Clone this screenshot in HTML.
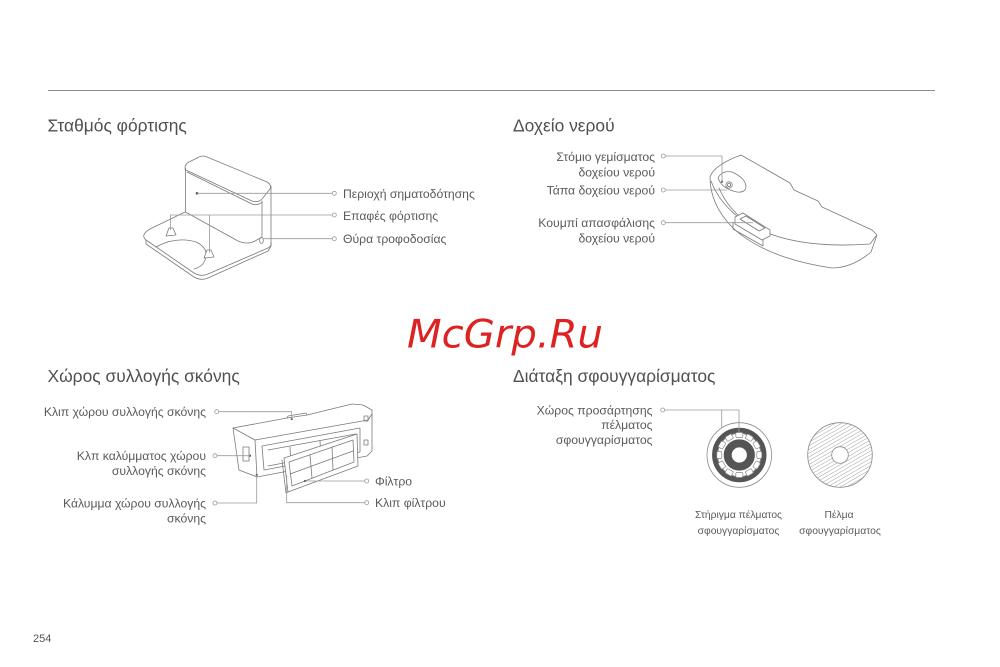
<!DOCTYPE html>
<html><head><meta charset="utf-8"><style>
html,body{margin:0;padding:0;background:#fff;}
svg{display:block;}
text{font-family:"Liberation Sans","DejaVu Sans",sans-serif;fill:#5a5a5a;}
.t{font-size:17.4px;fill:#505050;}
.l{font-size:12.2px;}
.c{font-size:10.3px;}
.ln{stroke:#9a9a9a;stroke-width:0.8;fill:none;}
.dot{fill:#fff;stroke:#9a9a9a;stroke-width:0.8;}
.d{stroke:#7a7a7a;stroke-width:0.8;fill:none;stroke-linejoin:round;stroke-linecap:round;}
.df{stroke:#7a7a7a;stroke-width:0.8;fill:#fff;stroke-linejoin:round;}
</style></head><body>
<svg width="1000" height="667" viewBox="0 0 1000 667" xmlns="http://www.w3.org/2000/svg">
<defs>
<pattern id="hatch" patternUnits="userSpaceOnUse" width="3.2" height="3.2" patternTransform="rotate(60)">
<line x1="0" y1="0" x2="0" y2="3.2" stroke="#8a8a8a" stroke-width="0.8"/>
</pattern>
</defs>

<line x1="48" y1="90.5" x2="935" y2="90.5" stroke="#8c8c8c" stroke-width="1"/>

<text class="t" x="47.5" y="131.5">Σταθμός φόρτισης</text>
<text class="t" x="513" y="131.5">Δοχείο νερού</text>
<text class="t" x="47.5" y="382">Χώρος συλλογής σκόνης</text>
<text class="t" x="513" y="382">Διάταξη σφουγγαρίσματος</text>

<!-- Charging station -->
<g>
<path class="df" d="M185,212 L150,229 Q140,235 146,240 L194,273 Q201,277 208,274 L268,248 Q272,246 271,242"/>
<path class="d" d="M146,240 L146,244 L194,277 Q201,281 208,278 L268,251 L271,246"/>
<path class="d" d="M156,247 Q176,236 196,242 Q207,247 206,256 Q205,266 194,269"/>
<path class="df" d="M185,168 Q185,164 189,162 L199,157 Q203,155 207,157 L267,182 Q272,185 270,189 L262,199 Q258,203 252,201 L188,171 Q185,170 185,168 Z"/>
<path class="d" d="M187,172 L252,204 Q258,206 262,202"/>
<line class="d" x1="185.5" y1="168" x2="185.5" y2="212"/>
<line class="d" x1="262" y1="201" x2="262" y2="237"/>
<line class="d" x1="271" y1="186" x2="271" y2="246"/>
<path class="d" d="M185.5,212 L238,241 Q247,245 255,241 L262,237"/>
<path class="df" d="M166,236 L169,228 L173,228 L176,235 Z"/>
<path class="df" d="M204,258 L207,250 L211,250 L214,257 Z"/>
<ellipse class="df" cx="261.5" cy="240.5" rx="1.8" ry="3"/>
<circle cx="197" cy="193.3" r="1.3" fill="#555"/>
</g>
<path class="ln" d="M197,193.3 H332"/>
<path class="ln" d="M170.5,230 V215 H332 M209.5,215 V253"/>
<path class="ln" d="M263,238.7 H332"/>
<circle class="dot" cx="334.3" cy="193.3" r="2"/>
<circle class="dot" cx="334.3" cy="215" r="2"/>
<circle class="dot" cx="334.3" cy="238.7" r="2"/>
<text class="l" x="343" y="197.8">Περιοχή σηματοδότησης</text>
<text class="l" x="343" y="219.8">Επαφές φόρτισης</text>
<text class="l" x="343" y="243.2">Θύρα τροφοδοσίας</text>

<!-- Water tank -->
<g>
<path class="df" d="M710,177 Q714,165 741,155 L790,183 L794,190 L818,201 L822,207 L872,230 L877,235 L871,252 Q852,268 832,268 Q765,258 733,228 Q710,205 710,177 Z"/>
<path class="d" d="M711,181 Q720,205 745,222 Q790,250 870,244 L876,236"/>
<path class="d" d="M719,188 Q728,210 752,226"/>
<path class="df" d="M718,178 Q722,170 732,172 Q745,178 746,186 Q746,193 737,192 Q722,189 718,178 Z"/>
<circle class="df" cx="729" cy="185" r="3.2"/>
<circle class="d" cx="729" cy="185" r="1.6"/>
<circle cx="722" cy="181.7" r="1.1" fill="#555"/>
<path class="df" d="M735,217 L743,213 L770,230 L770,236 L762,240 L735,224 Z"/>
<path class="d" d="M740,219 L746,216 L765,228 L759,231 Z"/>
<path class="d" d="M733,222 L733,229 L763,246 L763,240"/>
</g>
<path class="ln" d="M665.3,156 H722 V181.7"/>
<path class="ln" d="M665.3,190 H727"/>
<path class="ln" d="M665.3,222.7 H753"/>
<circle class="dot" cx="663.3" cy="156" r="2"/>
<circle class="dot" cx="663.3" cy="190" r="2"/>
<circle class="dot" cx="663.3" cy="222.7" r="2"/>
<text class="l" x="655" y="161" text-anchor="end">Στόμιο γεμίσματος</text>
<text class="l" x="655" y="176.5" text-anchor="end">δοχείου νερού</text>
<text class="l" x="655" y="194.3" text-anchor="end">Τάπα δοχείου νερού</text>
<text class="l" x="655" y="227" text-anchor="end">Κουμπί απασφάλισης</text>
<text class="l" x="655" y="242.3" text-anchor="end">δοχείου νερού</text>

<!-- Dust bin -->
<g>
<path class="df" d="M233,428 L287,418 L307,415 L352,404 L363,405 L372,410 L372,451 L367,456 L257,477 L239,470 Z"/>
<path class="d" d="M233,428 L255,440 L368,420 L372,414"/>
<line class="d" x1="255" y1="440" x2="257" y2="477"/>
<path class="d" d="M287,418 L288,416 L306,413 L307,415"/>
<rect class="df" x="243" y="447" width="6" height="14"/>
<path class="d" d="M262,446 L360,428 L360,452 L264,470 Z"/>
<path class="d" d="M268,450 L356,434 M268,466 L356,449 M290,447 L291,466 M320,441 L321,460"/>
<rect class="d" x="364" y="416" width="4" height="5"/>
<rect class="d" x="364" y="440" width="4" height="5"/>
<path class="df" d="M284,458 L357,434 L358,466 L288,492 Z"/>
<path class="d" d="M289,462 L353,440 L354,462 L292,486 Z"/>
<path class="d" d="M310,455 L312,478 M332,447 L333,470 M290,474 L353,451"/>
<path class="d" d="M282,460 L286,493 L288,492"/>
<circle cx="305" cy="481" r="1.1" fill="#555"/>
<circle cx="291.7" cy="419" r="1.1" fill="#555"/>
<circle cx="250" cy="455.7" r="1.1" fill="#555"/>
<circle cx="256.7" cy="475" r="1.1" fill="#555"/>
</g>
<path class="ln" d="M218.7,411.7 H291.7 V419"/>
<path class="ln" d="M217,455.7 H250"/>
<path class="ln" d="M217,503 H256.7 V475"/>
<path class="ln" d="M364.7,481 H305"/>
<path class="ln" d="M364.7,502.7 H286.7 V475"/>
<circle class="dot" cx="216.7" cy="411.7" r="2"/>
<circle class="dot" cx="215" cy="455.7" r="2"/>
<circle class="dot" cx="215" cy="503" r="2"/>
<circle class="dot" cx="366.7" cy="481" r="2"/>
<circle class="dot" cx="366.7" cy="502.7" r="2"/>
<text class="l" x="206" y="416.2" text-anchor="end">Κλιπ χώρου συλλογής σκόνης</text>
<text class="l" x="206" y="460.2" text-anchor="end">Κλπ καλύμματος χώρου</text>
<text class="l" x="206" y="475" text-anchor="end">συλλογής σκόνης</text>
<text class="l" x="206" y="507.5" text-anchor="end">Κάλυμμα χώρου συλλογής</text>
<text class="l" x="206" y="522.5" text-anchor="end">σκόνης</text>
<text class="l" x="375" y="485.5">Φίλτρο</text>
<text class="l" x="375" y="507.2">Κλιπ φίλτρου</text>

<!-- Mop -->
<g>
<circle cx="739.3" cy="455" r="32.3" fill="#fff" stroke="#8a8a8a" stroke-width="0.8"/>
<circle cx="739.3" cy="455" r="24.6" fill="none" stroke="#555" stroke-width="5.2"/>
<circle cx="739.3" cy="455" r="21.6" fill="#fff" stroke="#888" stroke-width="0.7"/>
<g fill="#fff" stroke="#888" stroke-width="0.7">
<rect x="735.8" y="432.5" width="7" height="5" rx="1.2"/>
<rect x="735.8" y="472.5" width="7" height="5" rx="1.2"/>
<rect x="716.8" y="451.5" width="5" height="7" rx="1.2"/>
<rect x="756.8" y="451.5" width="5" height="7" rx="1.2"/>
<rect x="735.8" y="432.5" width="7" height="5" rx="1.2" transform="rotate(30 739.3 455)"/>
<rect x="735.8" y="432.5" width="7" height="5" rx="1.2" transform="rotate(60 739.3 455)"/>
<rect x="735.8" y="432.5" width="7" height="5" rx="1.2" transform="rotate(120 739.3 455)"/>
<rect x="735.8" y="432.5" width="7" height="5" rx="1.2" transform="rotate(150 739.3 455)"/>
<rect x="735.8" y="432.5" width="7" height="5" rx="1.2" transform="rotate(210 739.3 455)"/>
<rect x="735.8" y="432.5" width="7" height="5" rx="1.2" transform="rotate(240 739.3 455)"/>
<rect x="735.8" y="432.5" width="7" height="5" rx="1.2" transform="rotate(300 739.3 455)"/>
<rect x="735.8" y="432.5" width="7" height="5" rx="1.2" transform="rotate(330 739.3 455)"/>
</g>
<circle cx="739.3" cy="455" r="11.6" fill="none" stroke="#555" stroke-width="8"/>
<circle cx="840" cy="455" r="32.3" fill="url(#hatch)" stroke="#8a8a8a" stroke-width="0.8"/>
<circle cx="840" cy="455" r="8.3" fill="#fff" stroke="#8a8a8a" stroke-width="0.8"/>
</g>
<path class="ln" d="M664.7,410 H739 V433 M721.7,410 V428"/>
<circle class="dot" cx="662.7" cy="410" r="2"/>
<text class="l" x="652.5" y="414.5" text-anchor="end">Χώρος προσάρτησης</text>
<text class="l" x="652.5" y="429.2" text-anchor="end">πέλματος</text>
<text class="l" x="652.5" y="444" text-anchor="end">σφουγγαρίσματος</text>
<text class="c" x="738.5" y="518" text-anchor="middle">Στήριγμα πέλματος</text>
<text class="c" x="738.5" y="534" text-anchor="middle">σφουγγαρίσματος</text>
<text class="c" x="839" y="518" text-anchor="middle">Πέλμα</text>
<text class="c" x="840" y="534" text-anchor="middle">σφουγγαρίσματος</text>

<text x="407" y="347.5" textLength="196" lengthAdjust="spacingAndGlyphs" style="font-family:'DejaVu Sans',sans-serif;font-style:italic;font-size:39px;fill:#dd2222;">McGrp.Ru</text>

<text x="33" y="642" style="font-size:11px;fill:#555;">254</text>
</svg>
</body></html>
